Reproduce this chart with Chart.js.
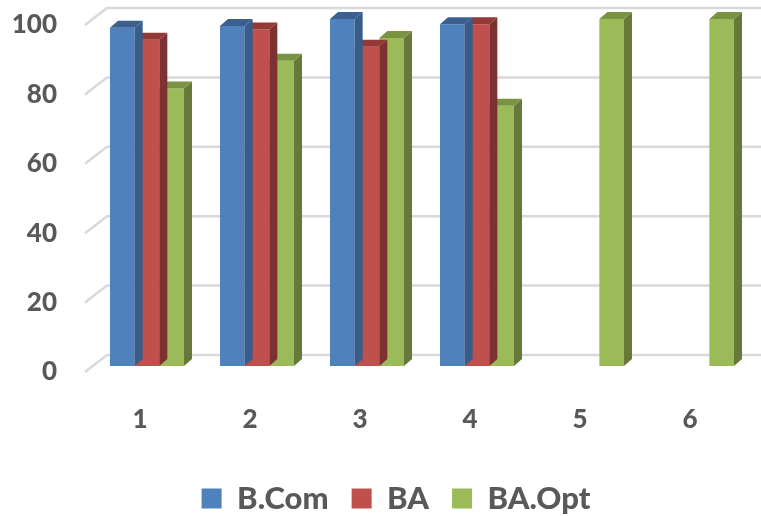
<!DOCTYPE html>
<html>
<head>
<meta charset="utf-8">
<script src="https://cdn.jsdelivr.net/npm/chart.js@4.4.1/dist/chart.umd.min.js"></script>
<style>
html,body{margin:0;padding:0;background:#fff;}
#wrap{width:761px;height:516px;position:relative;}
</style>
</head>
<body>
<div id="wrap"><canvas id="c"></canvas></div>
<script>
const categories = ['1', '2', '3', '4', '5', '6'];
const bCom = [97.5, 98, 100, 98.5, null, null];
const ba = [94, 97, 92, 98.5, null, null];
const baOpt = [80, 88, 94.5, 75, 100, 100];
const yTicks = [0, 20, 40, 60, 80, 100];

const seriesNames = ['B.Com', 'BA', 'BA.Opt'];
const frontColors = ['#4F81BD', '#C0504D', '#9BBB59'];
const sideColors = ['#385D8A', '#7D3130', '#66793A'];
const topColors = ['#3B6090', '#933937', '#799342'];

const BAR_DX = 8, BAR_DY = 7;
const WALL_DY = 11, DIAG_X0 = 85, DIAG_X1 = 107, DIAG_FRONT_DY = 6;
const LEGEND_DX = 20, LEGEND_DY = 8;

const wallPlugin = {
  id: 'wall',
  beforeDatasetsDraw(chart) {
    const ctx = chart.ctx, y = chart.scales.y;
    ctx.save();
    ctx.strokeStyle = '#D9D9D9';
    ctx.lineWidth = 2.5;
    y.ticks.forEach(t => {
      const yf = y.getPixelForValue(t.value);
      ctx.beginPath();
      ctx.moveTo(DIAG_X0, yf + DIAG_FRONT_DY);
      ctx.lineTo(DIAG_X1, yf - WALL_DY);
      ctx.lineTo(chart.width, yf - WALL_DY);
      ctx.stroke();
    });
    ctx.restore();
  }
};

const depthPlugin = {
  id: 'depth',
  afterDatasetDraw(chart, args) {
    const ctx = chart.ctx;
    const i = args.index;
    const meta = chart.getDatasetMeta(i);
    ctx.save();
    meta.data.forEach((bar, j) => {
      const v = chart.data.datasets[i].data[j];
      if (v === null || v === undefined) return;
      const p = bar.getProps(['x', 'y', 'base', 'width'], true);
      const l = p.x - p.width / 2, r = p.x + p.width / 2, t = p.y, b = p.base;
      ctx.fillStyle = sideColors[i];
      ctx.beginPath();
      ctx.moveTo(r, t);
      ctx.lineTo(r + BAR_DX, t - BAR_DY);
      ctx.lineTo(r + BAR_DX, b - BAR_DY);
      ctx.lineTo(r, b);
      ctx.closePath();
      ctx.fill();
      ctx.fillStyle = topColors[i];
      ctx.beginPath();
      ctx.moveTo(l, t);
      ctx.lineTo(l + BAR_DX, t - BAR_DY);
      ctx.lineTo(r + BAR_DX, t - BAR_DY);
      ctx.lineTo(r, t);
      ctx.closePath();
      ctx.fill();
    });
    ctx.restore();
  }
};

const legendShift = {
  id: 'legendShift',
  afterLayout(chart) {
    const lg = chart.legend;
    lg.left += LEGEND_DX; lg.right += LEGEND_DX;
    lg.top += LEGEND_DY; lg.bottom += LEGEND_DY;
  }
};

const seriesData = [bCom, ba, baOpt];
new Chart(document.getElementById('c'), {
  type: 'bar',
  data: {
    labels: categories,
    datasets: seriesData.map((d, i) => ({
      label: seriesNames[i],
      data: d,
      backgroundColor: frontColors[i],
      borderWidth: 0,
      categoryPercentage: 0.673,
      barPercentage: 1
    }))
  },
  options: {
    responsive: true,
    maintainAspectRatio: false,
    animation: false,
    layout: { padding: { left: 0, right: 9, top: 19, bottom: 0 } },
    plugins: {
      tooltip: { enabled: false },
      legend: {
        position: 'bottom',
        labels: {
          boxWidth: 20, boxHeight: 20,
          padding: 23,
          color: '#595959',
          font: { family: 'Lato', size: 31, weight: '900' }
        }
      }
    },
    scales: {
      x: {
        grid: { display: false },
        border: { display: false },
        ticks: {
          color: '#595959',
          font: { family: 'Lato', size: 26, weight: '900' },
          padding: 30,
          labelOffset: -7
        },
        afterFit: s => { s.height = 86; }
      },
      y: {
        min: 0, max: 100,
        afterBuildTicks: s => { s.ticks = yTicks.map(v => ({ value: v })); },
        grid: { display: false, drawTicks: true, tickLength: 35 },
        border: { display: false },
        ticks: {
          color: '#595959',
          font: { family: 'Lato', size: 26, weight: '900' },
          padding: 0,
          labelOffset: 6
        },
        afterFit: s => { s.width = 92; }
      }
    }
  },
  plugins: [wallPlugin, depthPlugin, legendShift]
});
</script>
</body>
</html>
